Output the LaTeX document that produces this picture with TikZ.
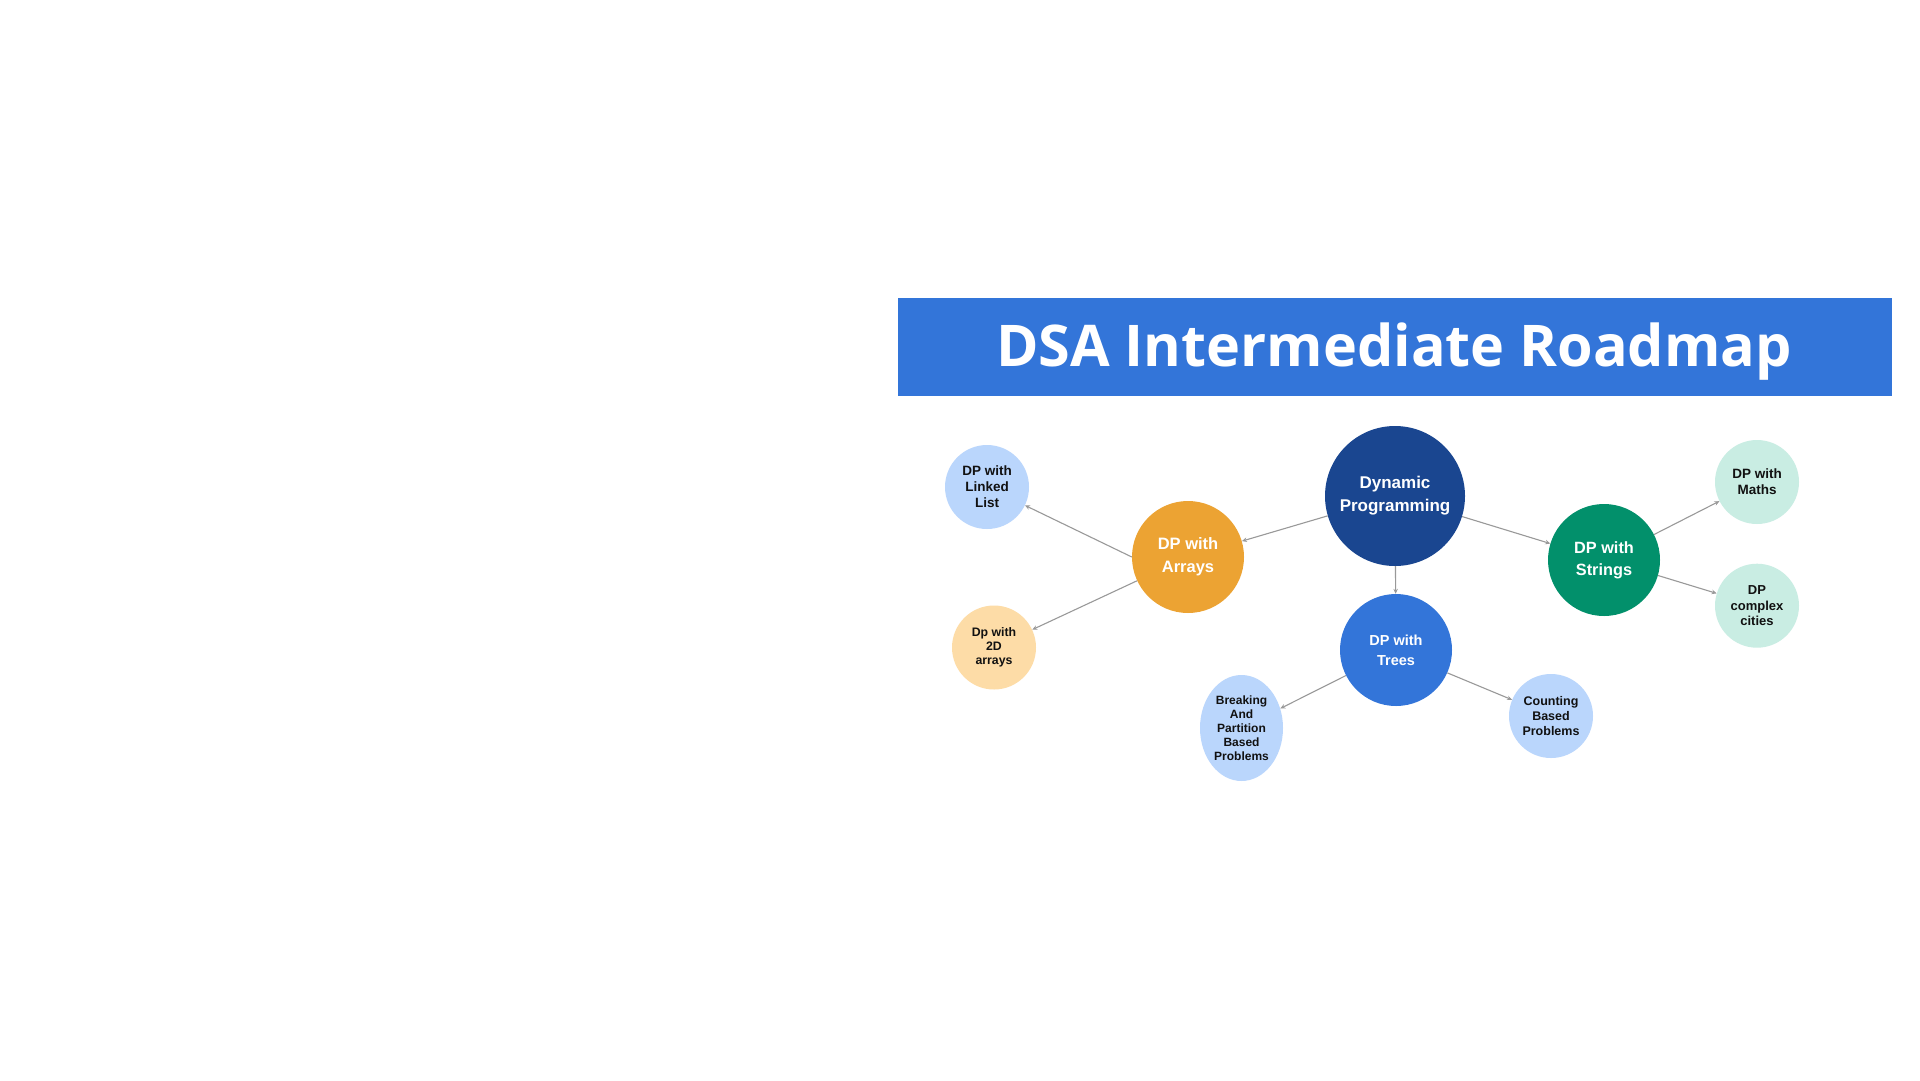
\documentclass[tikz,border=0pt]{standalone}
\usepackage{fontspec}
\setmainfont{Liberation Sans}
\newfontfamily\titlefont{Open Sans}
\usetikzlibrary{arrows.meta,shapes.geometric}
\definecolor{titleblue}{HTML}{3375D9}
\definecolor{dpblue}{HTML}{1A4690}
\definecolor{arrorange}{HTML}{ECA333}
\definecolor{treeblue}{HTML}{3375D9}
\definecolor{strgreen}{HTML}{02906B}
\definecolor{lightblue}{HTML}{BAD6FC}
\definecolor{lightorange}{HTML}{FDDCA7}
\definecolor{lightteal}{HTML}{C9EDE3}
\definecolor{linegray}{HTML}{999999}
\definecolor{darktext}{HTML}{111111}
\begin{document}
\begin{tikzpicture}[x=1pt,y=-1pt,
  mainnode/.style={circle, inner sep=0pt, text=white, align=center},
  subnode/.style={circle, inner sep=0pt, text=darktext, align=center},
  conn/.style={draw=linegray, line width=1.1pt, -{Stealth[length=5pt,width=4.5pt]}}]
\useasboundingbox[fill=white] (0,0) rectangle (1920,1080);
% title bar
\node[fill=titleblue, minimum width=994pt, minimum height=98pt, inner sep=0pt] (title) at (1395,346.5) {};
\node[anchor=base, inner sep=0pt, text=white,
      font=\titlefont\bfseries\fontsize{57.5}{57.5}\selectfont] (titletext) at (1394,366) {DSA Intermediate Roadmap};
% main nodes
\node[mainnode, fill=dpblue, minimum size=140pt, font=\bfseries\fontsize{17}{23}\selectfont] (dp) at (1395,496) {Dynamic\\Programming};
\node[mainnode, fill=arrorange, minimum size=112pt, font=\bfseries\fontsize{16.5}{23}\selectfont] (arr) at (1188,557) {DP with\\Arrays};
\node[mainnode, fill=treeblue, minimum size=112pt, font=\bfseries\fontsize{14.5}{20}\selectfont] (tree) at (1396,650) {DP with\\Trees};
\node[mainnode, fill=strgreen, minimum size=112pt, font=\bfseries\fontsize{16.3}{22}\selectfont] (str) at (1604,560) {DP with\\Strings};
% sub nodes
\node[subnode, fill=lightblue, minimum size=84pt, font=\bfseries\fontsize{13.5}{16}\selectfont] (ll) at (987,487) {DP with\\Linked\\List};
\node[subnode, fill=lightorange, minimum size=84pt, font=\bfseries\fontsize{12.3}{14.3}\selectfont] (d2) at (994,647.5) {Dp with\\2D\\arrays};
\node[ellipse, inner sep=0pt, text=darktext, align=center, fill=lightblue, minimum width=83pt, minimum height=106pt, font=\bfseries\fontsize{12}{14}\selectfont] (brk) at (1241.5,728) {Breaking\\And\\Partition\\Based\\Problems};
\node[subnode, fill=lightblue, minimum size=84pt, font=\bfseries\fontsize{12.5}{15}\selectfont] (cnt) at (1551,716) {Counting\\Based\\Problems};
\node[subnode, fill=lightteal, minimum size=84pt, font=\bfseries\fontsize{13.5}{16}\selectfont] (math) at (1757,482) {DP with\\Maths};
\node[subnode, fill=lightteal, minimum size=84pt, font=\bfseries\fontsize{13}{15.5}\selectfont] (cplx) at (1757,605.7) {DP\\complex\\cities};
% connectors
\draw[conn] (dp) -- (arr);
\draw[conn] (dp) -- (str);
\draw[conn] (dp) -- (tree);
\draw[conn] (arr.west) -- (ll);
\draw[conn] (arr.205) -- (d2);
\draw[conn] (tree.207) -- (brk);
\draw[conn] (tree.336) -- (cnt);
\draw[conn] (str.27) -- (math);
\draw[conn] (str.344) -- (cplx);
\end{tikzpicture}
\end{document}
